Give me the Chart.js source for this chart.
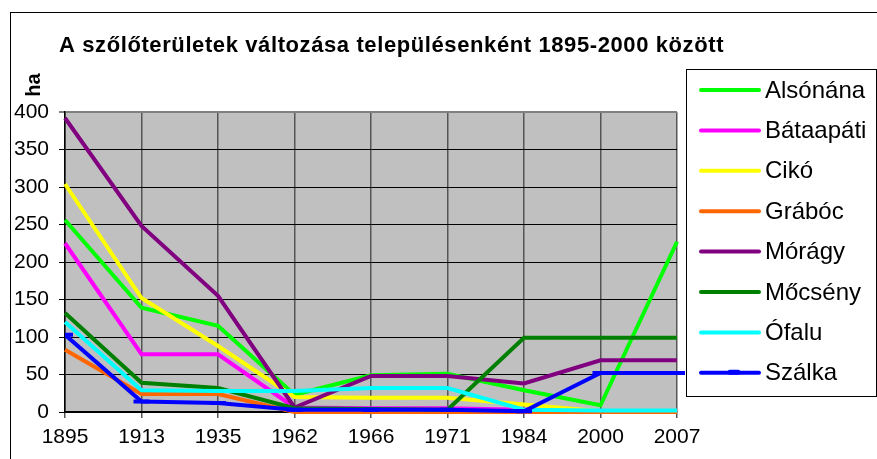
<!DOCTYPE html>
<html>
<head>
<meta charset="utf-8">
<script src="https://cdn.jsdelivr.net/npm/chart.js@4/dist/chart.umd.min.js"></script>
<style>
  html, body { margin: 0; padding: 0; background: #fff; }
  #wrap { width: 877px; height: 459px; }
</style>
</head>
<body>
<div id="wrap"><canvas id="chart" width="877" height="459"></canvas></div>
<script>
const years = ['1895', '1913', '1935', '1962', '1966', '1971', '1984', '2000', '2007'];

const alsonana  = [256, 139, 115, 23, 49, 51, 29, 9, 227];
const bataapati = [225, 77, 77, 6, 5, 5, 3, 1, 1];
const ciko      = [304, 152, 88, 20, 19, 19, 10, 1, 1];
const graboc    = [83, 24, 24, 0, 0, 0, 0, 0, 0];
const moragy    = [392, 248, 155, 6, 48, 48, 38, 69, 69];
const mocseny   = [132, 39, 32, 5, 4, 3, 99, 99, 99];
const ofalu     = [120, 29, 28, 28, 32, 32, 3, 2, 2];
const szalka    = [103, 14, 12, 3, 3, 3, 1, 52, 52];

const seriesNames  = ['Alsónána', 'Bátaapáti', 'Cikó', 'Grábóc', 'Mórágy', 'Mőcsény', 'Ófalu', 'Szálka'];
const seriesValues = [alsonana, bataapati, ciko, graboc, moragy, mocseny, ofalu, szalka];
const seriesColors = ['#00FF00', '#FF00FF', '#FFFF00', '#FF6600', '#800080', '#008000', '#00FFFF', '#0000FF'];

const titleText = 'A szőlőterületek változása településenként 1895-2000 között';
const FONT = '"Liberation Sans", Arial, sans-serif';

const datasets = seriesNames.map((name, i) => ({
    label: name,
    data: seriesValues[i],
    borderColor: seriesColors[i],
    backgroundColor: seriesColors[i],
    borderWidth: 4,
    tension: 0,
    pointRadius: name === 'Szálka' ? 8 : 0,
    pointStyle: 'line',
    pointBorderWidth: 4,
    pointBorderColor: seriesColors[i],
    clip: name === 'Szálka' ? { left: 0, top: 4, right: 12, bottom: 4 } : 4,
    order: seriesNames.length - i
}));

// gray plot background, frame, title, "ha" and the legend
const decor = {
    id: 'decor',
    beforeDraw(chart) {
        const ctx = chart.ctx;
        const a = chart.chartArea;
        ctx.save();
        ctx.fillStyle = '#fff';
        ctx.fillRect(0, 0, chart.width, chart.height);
        ctx.fillStyle = '#C0C0C0';
        ctx.fillRect(a.left, a.top, a.right - a.left, a.bottom - a.top);
        ctx.restore();
    },
    afterDraw(chart) {
        const ctx = chart.ctx;
        ctx.save();
        // outer frame
        ctx.strokeStyle = '#000';
        ctx.lineWidth = 1;
        ctx.strokeRect(10.5, 12.5, 900, 500);

        // title
        ctx.fillStyle = '#000';
        ctx.font = 'bold 22px ' + FONT;
        ctx.textBaseline = 'alphabetic';
        ctx.textAlign = 'left';
        ctx.letterSpacing = '0.6px';
        ctx.fillText(titleText, 59, 52);
        ctx.letterSpacing = '0px';

        // unit label
        ctx.save();
        ctx.translate(40, 85);
        ctx.rotate(-Math.PI / 2);
        ctx.textAlign = 'center';
        ctx.font = 'bold 20px ' + FONT;
        ctx.fillText('ha', 0, 0);
        ctx.restore();

        // legend box
        ctx.strokeStyle = '#000';
        ctx.strokeRect(686.5, 69.5, 190, 327);
        ctx.font = '24px ' + FONT;
        ctx.textBaseline = 'middle';
        chart.data.datasets.forEach((ds, i) => {
            const y = 90 + i * 40.4;
            ctx.strokeStyle = ds.borderColor;
            ctx.lineWidth = 4;
            ctx.lineCap = 'round';
            ctx.beginPath();
            ctx.moveTo(701, y);
            ctx.lineTo(759, y);
            ctx.stroke();
            if (ds.label === 'Szálka') {
                ctx.lineWidth = 5;
                ctx.beginPath();
                ctx.moveTo(730, y - 0.5);
                ctx.lineTo(738, y - 0.5);
                ctx.stroke();
            }
            ctx.fillStyle = '#000';
            ctx.fillText(ds.label, 765, y + 1);
        });
        ctx.restore();
    }
};

new Chart(document.getElementById('chart'), {
    type: 'line',
    data: { labels: years, datasets: datasets },
    options: {
        responsive: false,
        animation: false,
        layout: { padding: { left: 10, right: 200, top: 112, bottom: 0 } },
        plugins: {
            legend: { display: false },
            title: { display: false },
            tooltip: { enabled: false }
        },
        scales: {
            x: {
                offset: false,
                grid: { color: '#555', lineWidth: 1.5, tickLength: 6, drawOnChartArea: true },
                border: { color: '#000', width: 1.5 },
                ticks: { color: '#000', font: { family: FONT, size: 21 }, padding: 7, maxRotation: 0, autoSkip: false },
                afterFit(scale) { scale.height = 47; }
            },
            y: {
                min: 0,
                max: 400,
                ticks: { stepSize: 50, color: '#000', font: { family: FONT, size: 21 }, padding: 10 },
                grid: {
                    color: ctx => (ctx.tick && ctx.tick.value === 400 ? '#808080' : '#000'),
                    lineWidth: ctx => (ctx.tick && ctx.tick.value === 400 ? 2 : 1),
                    tickLength: 6
                },
                border: { color: '#000', width: 1.5 },
                afterFit(scale) { scale.width = 55; }
            }
        }
    },
    plugins: [decor]
});
</script>
</body>
</html>
